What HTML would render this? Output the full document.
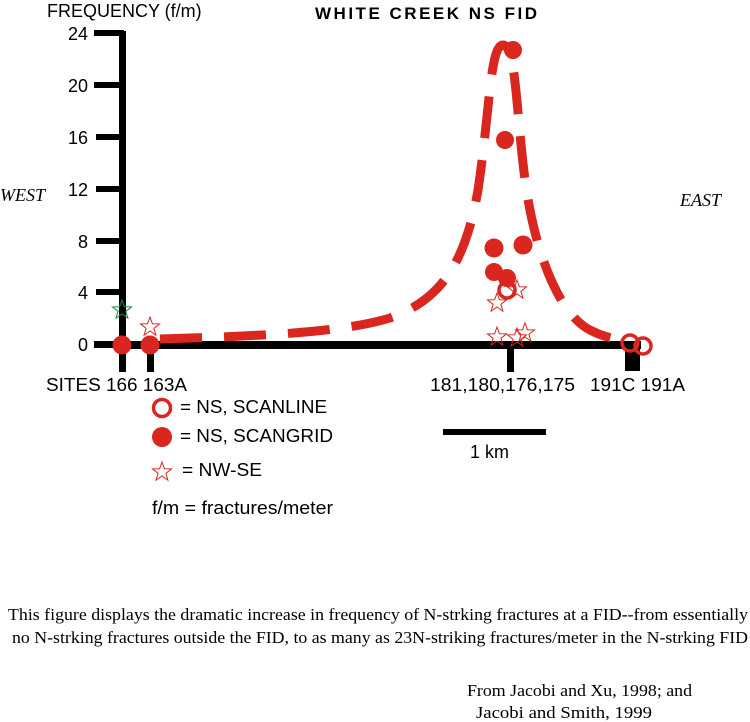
<!DOCTYPE html>
<html><head><style>
body{margin:0;background:#fff;width:750px;height:722px;overflow:hidden}
svg{display:block}
</style></head><body>
<svg width="750" height="722" xmlns="http://www.w3.org/2000/svg">
<defs>
<path id="st" d="M0,-10 L2.4,-3.3 9.5,-3.1 3.9,1.3 5.9,8.1 0,4 -5.9,8.1 -3.9,1.3 -9.5,-3.1 -2.4,-3.3Z" fill="none" stroke-width="1"/>
</defs>
<g font-family="Liberation Sans, sans-serif" fill="#000">
<text x="47" y="17" font-size="18">FREQUENCY (f/m)</text>
<text x="315" y="19" font-size="17" font-weight="bold" textLength="222" lengthAdjust="spacing">WHITE CREEK NS FID</text>
<g font-size="18" text-anchor="end">
<text x="88" y="40">24</text><text x="88" y="92">20</text><text x="88" y="144">16</text>
<text x="88" y="196">12</text><text x="88" y="248">8</text><text x="88" y="299">4</text><text x="88" y="351">0</text>
</g>
<text x="46" y="391" font-size="18" textLength="141" lengthAdjust="spacingAndGlyphs">SITES 166 163A</text>
<text x="430" y="391" font-size="18" textLength="145" lengthAdjust="spacingAndGlyphs">181,180,176,175</text>
<text x="590" y="391" font-size="18" textLength="95" lengthAdjust="spacingAndGlyphs">191C 191A</text>
<text x="180" y="413" font-size="18" textLength="147" lengthAdjust="spacingAndGlyphs">= NS, SCANLINE</text>
<text x="180" y="442" font-size="18" textLength="153" lengthAdjust="spacingAndGlyphs">= NS, SCANGRID</text>
<text x="182" y="476" font-size="18" textLength="80" lengthAdjust="spacingAndGlyphs">= NW-SE</text>
<text x="152" y="514" font-size="18" textLength="181" lengthAdjust="spacingAndGlyphs">f/m = fractures/meter</text>
<text x="470" y="458" font-size="18">1  km</text>
</g>
<g font-family="Liberation Serif, serif" font-size="17" fill="#000">
<text x="0" y="201" font-style="italic" font-size="18">WEST</text>
<text x="680" y="206" font-style="italic" font-size="18">EAST</text>
<text x="8" y="620" textLength="740" lengthAdjust="spacingAndGlyphs">This figure displays the dramatic increase in frequency of N-strking fractures at a FID--from essentially</text>
<text x="12" y="643" textLength="736" lengthAdjust="spacingAndGlyphs">no N-strking fractures outside the FID, to as many as 23N-striking fractures/meter in the N-strking FID</text>
<text x="467" y="696" textLength="225" lengthAdjust="spacingAndGlyphs">From Jacobi and Xu, 1998; and</text>
<text x="476" y="718" textLength="176" lengthAdjust="spacingAndGlyphs">Jacobi and Smith, 1999</text>
</g>
<g fill="#000">
<rect x="119" y="31" width="7" height="317"/>
<rect x="94" y="30" width="30" height="6"/>
<rect x="94" y="82" width="28" height="6"/><rect x="96" y="134" width="26" height="6"/>
<rect x="96" y="186" width="26" height="6"/><rect x="96" y="238" width="26" height="6"/>
<rect x="96" y="289" width="26" height="6"/><rect x="94" y="341" width="28" height="7"/>
<rect x="119" y="341" width="522" height="8"/>
<rect x="119" y="345" width="7" height="27"/><rect x="147" y="345" width="7" height="27"/>
<rect x="507" y="345" width="7" height="27"/><rect x="625" y="345" width="15" height="26"/>
<rect x="443" y="429" width="103" height="6"/>
</g>
<path d="M160,339 C260,336 340,333 390,318 C440,300 465,265 478,190 C490,110 490,45 503,45 C516,45 516,110 525,180 C535,255 560,315 590,330 C605,338 620,340 632,341" fill="none" stroke="#d9261f" stroke-width="9" stroke-dasharray="42,22"/>
<g fill="#d9261f">
<circle cx="122" cy="345" r="9.5"/><circle cx="150" cy="345" r="9.5"/>
<circle cx="494" cy="248" r="9.5"/><circle cx="523" cy="245" r="9.5"/>
<circle cx="505" cy="140" r="9"/><circle cx="513" cy="50" r="9"/>
<circle cx="494" cy="272" r="9"/><circle cx="507" cy="278" r="9"/>
<circle cx="162" cy="408" r="10"/><circle cx="162" cy="437" r="10"/>
</g>
<g fill="none" stroke="#d9261f" stroke-width="3.5">
<circle cx="507" cy="290" r="8"/><circle cx="630" cy="343" r="8"/><circle cx="643" cy="346" r="8"/>
<circle cx="162" cy="408" r="8.5" fill="#fff"/>
</g>
<g stroke="#d9261f">
<use href="#st" x="150" y="327"/><use href="#st" x="497" y="303"/><use href="#st" x="517" y="290"/>
<use href="#st" x="497" y="337"/><use href="#st" x="517" y="338"/><use href="#st" x="525" y="333"/>
<use href="#st" x="162" y="472"/>
</g>
<use href="#st" x="122" y="310" stroke="#1a8a3a"/>
</svg>
</body></html>
